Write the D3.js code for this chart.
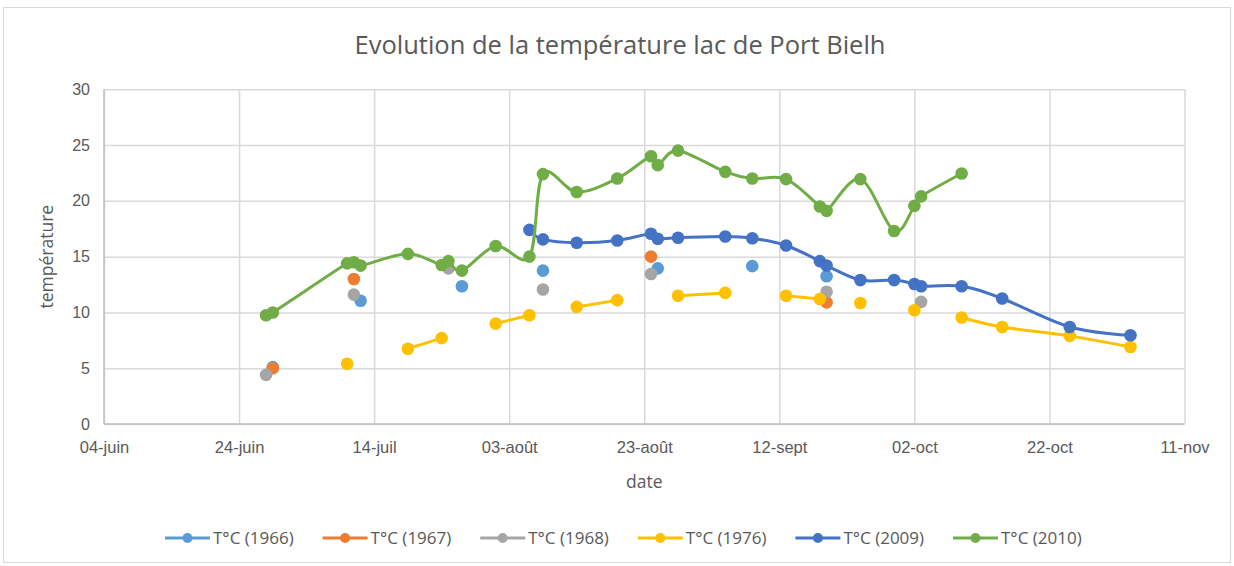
<!DOCTYPE html>
<html lang="fr">
<head>
<meta charset="utf-8">
<script src="https://cdn.jsdelivr.net/npm/d3@7/dist/d3.min.js"></script>
<style>
  html, body { margin: 0; padding: 0; background: #fff; }
  svg { display: block; font-family: "Open Sans", "Liberation Sans", sans-serif; }
</style>
</head>
<body>
<svg id="chart" width="1234" height="566"></svg>
<script>
// Dates de mesure (table commune à toutes les séries)
const dates = [
  "2010-06-28","2010-06-29","2010-07-10","2010-07-11","2010-07-12","2010-07-19",
  "2010-07-24","2010-07-25","2010-07-27","2010-08-01","2010-08-06","2010-08-08",
  "2010-08-13","2010-08-19","2010-08-24","2010-08-25","2010-08-28","2010-09-04",
  "2010-09-08","2010-09-13","2010-09-18","2010-09-19","2010-09-24","2010-09-29",
  "2010-10-02","2010-10-03","2010-10-09","2010-10-15","2010-10-25","2010-11-03"
];

// Températures (°C) ; null = pas de mesure ce jour-là
const t1966 = [null,5.1,null,null,11.05,null,null,null,12.35,null,null,13.75,null,null,null,13.95,null,null,14.15,null,null,13.25,null,null,null,null,null,null,null,null];
const t1967 = [null,5.0,null,13.0,null,null,null,null,null,null,null,null,null,null,15.0,null,null,null,null,null,null,10.9,null,null,null,null,null,null,null,null];
const t1968 = [4.4,null,null,11.6,null,null,null,13.95,null,null,null,12.05,null,null,13.45,null,null,null,null,null,null,11.85,null,null,null,10.95,null,null,null,null];
const t1976 = [null,null,5.4,null,null,6.75,7.7,null,null,9.0,9.75,null,10.5,11.1,null,null,11.5,11.75,null,11.5,11.2,null,10.85,null,10.2,null,9.55,8.7,7.9,6.9];
const t2009 = [null,null,null,null,null,null,null,null,null,null,17.4,16.55,16.25,16.45,17.05,16.6,16.7,16.8,16.65,16.0,14.6,14.2,12.9,12.9,12.55,12.35,12.35,11.25,8.7,7.95];
const t2010 = [9.75,10.0,14.4,14.5,14.2,15.25,14.25,14.6,13.75,15.95,15.0,22.4,20.8,22.0,24.0,23.2,24.5,22.6,22.0,21.95,19.5,19.1,21.95,17.3,19.55,20.4,22.45,null,null,null];

const seriesNames = ["T°C (1966)","T°C (1967)","T°C (1968)","T°C (1976)","T°C (2009)","T°C (2010)"];
const seriesValues = [t1966, t1967, t1968, t1976, t2009, t2010];
const seriesColors = ["#5B9BD5","#ED7D31","#A5A5A5","#FFC000","#4472C4","#70AD47"];

// Axe des dates
const tickDates = ["2010-06-04","2010-06-24","2010-07-14","2010-08-03","2010-08-23","2010-09-12","2010-10-02","2010-10-22","2010-11-11"];
const tickLabels = ["04-juin","24-juin","14-juil","03-août","23-août","12-sept","02-oct","22-oct","11-nov"];
const yTicks = [0,5,10,15,20,25,30];

const parse = d3.utcParse("%Y-%m-%d");
const W = 1234, H = 566;
const plot = { left: 104, right: 1184.5, top: 89.3, bottom: 424 };

const svg = d3.select("#chart");

// cadre du graphique
svg.append("rect")
  .attr("x", 3.5).attr("y", 7.5).attr("width", W - 7).attr("height", H - 11)
  .attr("fill", "#fff").attr("stroke", "#d9d9d9").attr("stroke-width", 1);

const x = d3.scaleUtc()
  .domain([parse(tickDates[0]), parse(tickDates[tickDates.length - 1])])
  .range([plot.left, plot.right]);
const y = d3.scaleLinear().domain([0, 30]).range([plot.bottom, plot.top]);

const gridColor = "#d9d9d9";
const textColor = "#595959";

// grille horizontale
const gy = svg.append("g")
  .attr("transform", `translate(${plot.left},0)`)
  .call(d3.axisLeft(y).tickValues(yTicks).tickSize(-(plot.right - plot.left)).tickFormat(d3.format("d")).tickPadding(14));
gy.select(".domain").remove();
gy.selectAll(".tick line").attr("stroke", gridColor).attr("stroke-width", 1.5);
gy.selectAll(".tick text").attr("fill", textColor).style("font-size", "16px");

// grille verticale + étiquettes de dates
const xTickDates = tickDates.map(parse);
const gx = svg.append("g")
  .attr("transform", `translate(0,${plot.bottom})`)
  .call(d3.axisBottom(x).tickValues(xTickDates).tickSize(-(plot.bottom - plot.top))
    .tickFormat((d, i) => tickLabels[i]).tickPadding(17));
gx.select(".domain").remove();
gx.selectAll(".tick line").attr("stroke", gridColor).attr("stroke-width", 1.5);
gx.selectAll(".tick text").attr("fill", textColor).style("font-size", "16.5px");

// lignes d'axe
svg.append("line").attr("x1", plot.left).attr("x2", plot.right).attr("y1", plot.bottom).attr("y2", plot.bottom)
  .attr("stroke", "#bfbfbf").attr("stroke-width", 1.5);
svg.append("line").attr("x1", plot.left).attr("x2", plot.left).attr("y1", plot.top).attr("y2", plot.bottom)
  .attr("stroke", "#bfbfbf").attr("stroke-width", 1.5);

// titres
svg.append("text").attr("x", 620).attr("y", 54).attr("text-anchor", "middle")
  .attr("fill", textColor).style("font-size", "25.5px")
  .text("Evolution de la température lac de Port Bielh");
svg.append("text").attr("x", (plot.left + plot.right) / 2).attr("y", 488).attr("text-anchor", "middle")
  .attr("fill", textColor).style("font-size", "17.5px").text("date");
svg.append("text").attr("transform", `translate(53,${(plot.top + plot.bottom) / 2}) rotate(-90)`)
  .attr("text-anchor", "middle").attr("fill", textColor).style("font-size", "17.5px").text("température");

// séries
const pts = dates.map(parse);
const line = d3.line()
  .defined(d => d.v != null)
  .x(d => x(d.t)).y(d => y(d.v))
  .curve(d3.curveCardinal.tension(0));

seriesValues.forEach((vals, s) => {
  const data = vals.map((v, i) => ({ t: pts[i], v }));
  const g = svg.append("g");
  g.append("path").datum(data)
    .attr("d", line).attr("fill", "none")
    .attr("stroke", seriesColors[s]).attr("stroke-width", 3)
    .attr("stroke-linejoin", "round").attr("stroke-linecap", "round");
  g.selectAll("circle").data(data.filter(d => d.v != null)).join("circle")
    .attr("cx", d => x(d.t)).attr("cy", d => y(d.v)).attr("r", 6.3)
    .attr("fill", seriesColors[s]);
});

// légende
const legend = svg.append("g").attr("transform", "translate(165,538)");
seriesNames.forEach((name, s) => {
  const g = legend.append("g").attr("transform", `translate(${s * 157.6},0)`);
  g.append("line").attr("x1", 0).attr("x2", 45).attr("y1", 0).attr("y2", 0)
    .attr("stroke", seriesColors[s]).attr("stroke-width", 3);
  g.append("circle").attr("cx", 22.5).attr("cy", 0).attr("r", 5).attr("fill", seriesColors[s]);
  g.append("text").attr("x", 48).attr("y", 6).attr("fill", textColor)
    .style("font-size", "17px").text(name);
});
</script>
</body>
</html>
